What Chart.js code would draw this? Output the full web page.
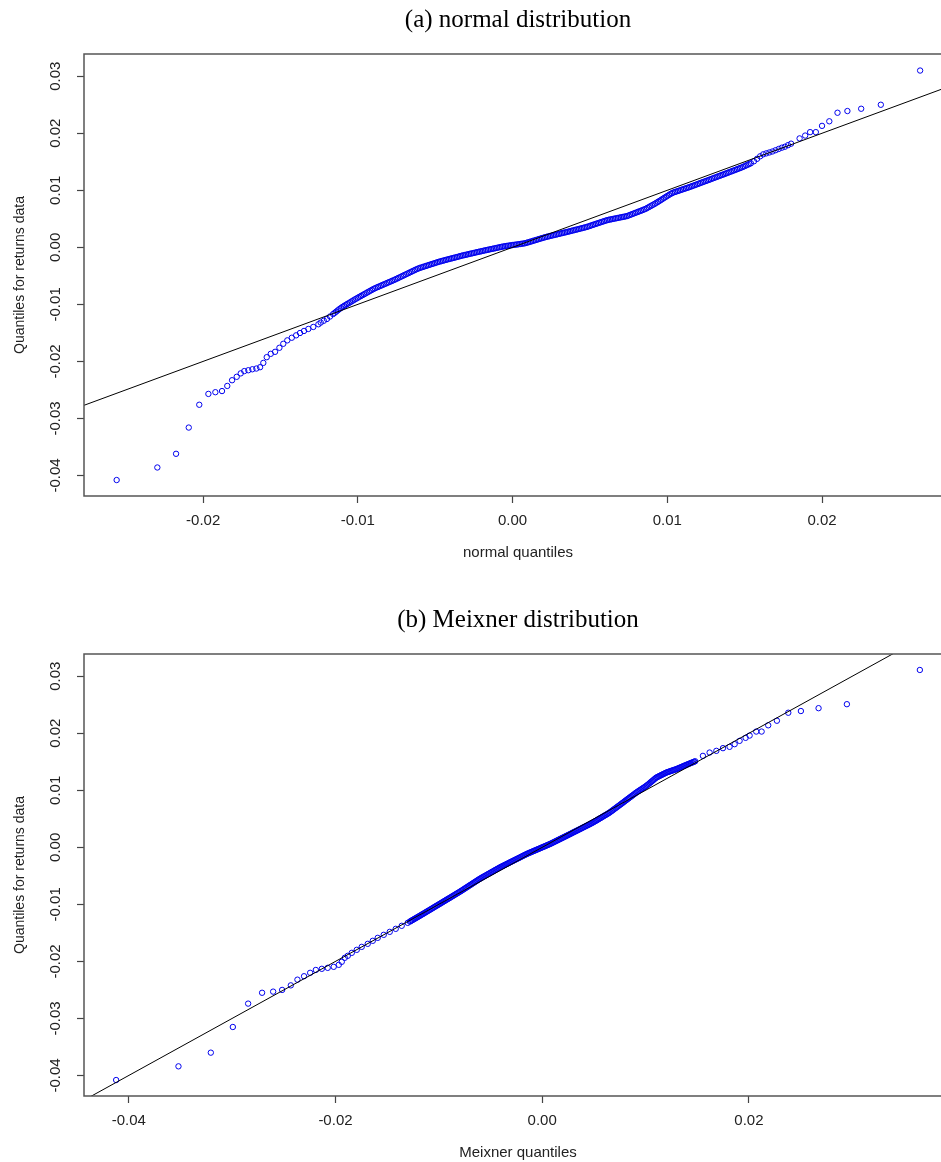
<!DOCTYPE html>
<html>
<head>
<meta charset="utf-8">
<script src="https://cdn.jsdelivr.net/npm/chart.js@4.4.0/dist/chart.umd.min.js"></script>
<style>
  html, body { margin: 0; padding: 0; background: #fff; overflow: hidden; }
  .panel { position: relative; width: 960px; height: 600px; }
</style>
</head>
<body>
<div class="panel"><canvas id="normalChart" width="960" height="600"></canvas></div>
<div class="panel"><canvas id="meixnerChart" width="960" height="600"></canvas></div>
<script>
// Q-Q plots of the returns: sorted sample (y) against theoretical quantiles (x)

// (a) normal quantiles -- lower tail
const normalLowX = [-0.02559, -0.02296, -0.02175, -0.02093, -0.02025, -0.01966, -0.01921, -0.01878, -0.01844, -0.01813,
  -0.01783, -0.01757, -0.01734, -0.01708, -0.01682, -0.01656, -0.01632, -0.01611, -0.01589, -0.01563,
  -0.01535, -0.01507, -0.01482, -0.01456, -0.01427, -0.01399, -0.01374, -0.01348, -0.0132, -0.01288, -0.01255];
const normalLowY = [-0.0408, -0.0386, -0.0362, -0.0316, -0.0276, -0.0257, -0.0254, -0.0252, -0.0243, -0.0233,
  -0.0227, -0.0221, -0.0217, -0.02155, -0.02138, -0.02125, -0.02102, -0.02026, -0.01926, -0.01867,
  -0.01832, -0.01761, -0.01691, -0.01631, -0.01585, -0.01543, -0.01502, -0.01466, -0.01431, -0.01396, -0.01349];

// (a) body of the sample
const normalBandX = [
  -0.0124, -0.0122, -0.0120, -0.0118, -0.0116, -0.0114, -0.0112, -0.0110, -0.0108, -0.0106,
  -0.0104, -0.0102, -0.0100, -0.0098, -0.0096, -0.0094, -0.0092, -0.0090, -0.0088, -0.0086,
  -0.0084, -0.0082, -0.0080, -0.0078, -0.0076, -0.0074, -0.0072, -0.0070, -0.0068, -0.0066,
  -0.0064, -0.0062, -0.0060, -0.0058, -0.0056, -0.0054, -0.0052, -0.0050, -0.0048, -0.0046,
  -0.0044, -0.0042, -0.0040, -0.0038, -0.0036, -0.0034, -0.0032, -0.0030, -0.0028, -0.0026,
  -0.0024, -0.0022, -0.0020, -0.0018, -0.0016, -0.0014, -0.0012, -0.0010, -0.0008, -0.0006,
  -0.0004, -0.0002, 0.0000, 0.0002, 0.0004, 0.0006, 0.0008, 0.0010, 0.0012, 0.0014,
  0.0016, 0.0018, 0.0020, 0.0022, 0.0024, 0.0026, 0.0028, 0.0030, 0.0032, 0.0034,
  0.0036, 0.0038, 0.0040, 0.0042, 0.0044, 0.0046, 0.0048, 0.0050, 0.0052, 0.0054,
  0.0056, 0.0058, 0.0060, 0.0062, 0.0064, 0.0066, 0.0068, 0.0070, 0.0072, 0.0074,
  0.0076, 0.0078, 0.0080, 0.0082, 0.0084, 0.0086, 0.0088, 0.0090, 0.0092, 0.0094,
  0.0096, 0.0098, 0.0100, 0.0102, 0.0104, 0.0106, 0.0108, 0.0110, 0.0112, 0.0114,
  0.0116, 0.0118, 0.0120, 0.0122, 0.0124, 0.0126, 0.0128, 0.0130, 0.0132, 0.0134,
  0.0136, 0.0138, 0.0140, 0.0142, 0.0144, 0.0146, 0.0148, 0.0150, 0.0152, 0.0154,
  0.0156, 0.0158, 0.0160, 0.0162, 0.0164, 0.0166, 0.0168, 0.0170, 0.0172, 0.0174,
  0.0176, 0.0178, 0.0180];
const normalBandY = [
  -0.01319, -0.01287, -0.01256, -0.01213, -0.0117, -0.01127, -0.01084, -0.01045, -0.01012, -0.0098,
  -0.00947, -0.00914, -0.00883, -0.00853, -0.00823, -0.00792, -0.00762, -0.00732, -0.00706, -0.00683,
  -0.00659, -0.00636, -0.00612, -0.00589, -0.00565, -0.00539, -0.00513, -0.00487, -0.00461, -0.00435,
  -0.00409, -0.00383, -0.00361, -0.00344, -0.00326, -0.00309, -0.00291, -0.00274, -0.00256, -0.00241,
  -0.00226, -0.00212, -0.00198, -0.00184, -0.0017, -0.00155, -0.00141, -0.00129, -0.00116, -0.00104,
  -0.00091, -0.00079, -0.00067, -0.00054, -0.00043, -0.00031, -0.0002, -0.00008, 0.00004, 0.00015,
  0.00024, 0.00032, 0.0004, 0.00047, 0.00055, 0.00063, 0.00071, 0.00087, 0.00103, 0.0012,
  0.00136, 0.00153, 0.00169, 0.00184, 0.00197, 0.0021, 0.00223, 0.00236, 0.00249, 0.00262,
  0.00275, 0.00289, 0.00303, 0.00316, 0.0033, 0.00344, 0.00358, 0.00376, 0.00395, 0.00413,
  0.00431, 0.00449, 0.00467, 0.00482, 0.00493, 0.00504, 0.00515, 0.00526, 0.00537, 0.00548,
  0.00569, 0.0059, 0.00611, 0.00632, 0.00653, 0.00675, 0.00705, 0.00735, 0.00765, 0.00798,
  0.00832, 0.00867, 0.00901, 0.00935, 0.00962, 0.0098, 0.00998, 0.01017, 0.01035, 0.01053,
  0.01073, 0.01093, 0.01113, 0.01134, 0.01154, 0.01174, 0.01194, 0.01215, 0.01235, 0.01256,
  0.01276, 0.01296, 0.01317, 0.01338, 0.01358, 0.01379, 0.014, 0.01424, 0.01449, 0.01474,
  0.01509, 0.01552, 0.01596, 0.01631, 0.01648, 0.01664, 0.01681, 0.01703, 0.01725, 0.01747,
  0.01764, 0.01791, 0.01818];

// (a) densest stretch, observations lying between the ones above
const normalMidX = [
  -0.0115, -0.0113, -0.0111, -0.0109, -0.0107, -0.0105,
  -0.0103, -0.0101, -0.0099, -0.0097, -0.0095, -0.0093, -0.0091, -0.0089, -0.0087, -0.0085,
  -0.0083, -0.0081, -0.0079, -0.0077, -0.0075, -0.0073, -0.0071, -0.0069, -0.0067, -0.0065,
  -0.0063, -0.0061, -0.0059, -0.0057, -0.0055, -0.0053, -0.0051, -0.0049, -0.0047, -0.0045,
  -0.0043, -0.0041, -0.0039, -0.0037, -0.0035, -0.0033, -0.0031, -0.0029, -0.0027, -0.0025,
  -0.0023, -0.0021, -0.0019, -0.0017, -0.0015, -0.0013, -0.0011, -0.0009, -0.0007, -0.0005,
  -0.0003, -0.0001, 0.0001, 0.0003, 0.0005, 0.0007, 0.0009, 0.0011, 0.0013, 0.0015,
  0.0017, 0.0019, 0.0021, 0.0023, 0.0025, 0.0027, 0.0029, 0.0031, 0.0033, 0.0035,
  0.0037, 0.0039, 0.0041, 0.0043, 0.0045, 0.0047, 0.0049, 0.0051, 0.0053, 0.0055,
  0.0057, 0.0059, 0.0061, 0.0063, 0.0065, 0.0067, 0.0069, 0.0071, 0.0073, 0.0075,
  0.0077, 0.0079, 0.0081, 0.0083, 0.0085, 0.0087, 0.0089, 0.0091, 0.0093, 0.0095,
  0.0097, 0.0099, 0.0101, 0.0103, 0.0105, 0.0107, 0.0109, 0.0111, 0.0113, 0.0115,
  0.0117, 0.0119, 0.0121, 0.0123, 0.0125, 0.0127, 0.0129, 0.0131, 0.0133, 0.0135,
  0.0137, 0.0139, 0.0141, 0.0143, 0.0145, 0.0147, 0.0149, 0.0151, 0.0153];
const normalMidY = [
  -0.01149, -0.01106, -0.01065, -0.01029, -0.00996, -0.00964,
  -0.00931, -0.00899, -0.00868, -0.00838, -0.00808, -0.00777, -0.00747, -0.00719, -0.00695, -0.00671,
  -0.00648, -0.00624, -0.00601, -0.00577, -0.00552, -0.00526, -0.005, -0.00474, -0.00448, -0.00422,
  -0.00396, -0.00372, -0.00353, -0.00335, -0.00318, -0.003, -0.00283, -0.00265, -0.00249, -0.00234,
  -0.00219, -0.00205, -0.00191, -0.00177, -0.00163, -0.00148, -0.00135, -0.00123, -0.0011, -0.00098,
  -0.00085, -0.00073, -0.00061, -0.00049, -0.00037, -0.00026, -0.00014, -0.00002, 0.0001, 0.0002,
  0.00028, 0.00036, 0.00044, 0.00051, 0.00059, 0.00067, 0.00079, 0.00095, 0.00112, 0.00128,
  0.00145, 0.00161, 0.00177, 0.00191, 0.00204, 0.00217, 0.0023, 0.00243, 0.00256, 0.00269,
  0.00282, 0.00296, 0.0031, 0.00323, 0.00337, 0.00351, 0.00367, 0.00386, 0.00404, 0.00422,
  0.0044, 0.00458, 0.00475, 0.00488, 0.00499, 0.0051, 0.00521, 0.00532, 0.00543, 0.00559,
  0.0058, 0.00601, 0.00622, 0.00643, 0.00664, 0.0069, 0.0072, 0.0075, 0.00782, 0.00815,
  0.0085, 0.00884, 0.00918, 0.00949, 0.00971, 0.00989, 0.01008, 0.01026, 0.01044, 0.01063,
  0.01083, 0.01103, 0.01124, 0.01144, 0.01164, 0.01184, 0.01205, 0.01225, 0.01246, 0.01266,
  0.01286, 0.01307, 0.01328, 0.01348, 0.01369, 0.0139, 0.01412, 0.01437, 0.01462];

// (a) upper tail
const normalHighX = [0.01855, 0.01891, 0.01923, 0.0196, 0.0200, 0.02047, 0.0210, 0.02164, 0.02253, 0.0238, 0.02634];
const normalHighY = [0.0191, 0.0196, 0.0202, 0.0202, 0.0213, 0.0221, 0.0236, 0.0239, 0.0243, 0.0250, 0.0310];

// (b) Meixner quantiles -- lower tail
const meixnerLowX = [-0.04122, -0.03519, -0.03206, -0.02993, -0.02845, -0.0271, -0.02603, -0.02516, -0.02432, -0.02368,
  -0.02304, -0.02245, -0.0219, -0.02132, -0.02075, -0.02017, -0.01968, -0.01939, -0.0191, -0.01881,
  -0.01842, -0.01794, -0.01746, -0.01688, -0.01639, -0.01591, -0.01533, -0.01475, -0.01417, -0.01359, -0.01301];
const meixnerLowY = [-0.0408, -0.0384, -0.0360, -0.0315, -0.0274, -0.0255, -0.0253, -0.0250, -0.0242, -0.0232,
  -0.0226, -0.0220, -0.0215, -0.0213, -0.02113, -0.02095, -0.0206, -0.02007, -0.01937, -0.01902,
  -0.0185, -0.01797, -0.01745, -0.01692, -0.01639, -0.01587, -0.01534, -0.01482, -0.01429, -0.01376, -0.01324];

// (b) body of the sample
const meixnerBandX = [
  -0.0128, -0.0126, -0.0124, -0.0122, -0.0120, -0.0118, -0.0116, -0.0114, -0.0112, -0.0110,
  -0.0108, -0.0106, -0.0104, -0.0102, -0.0100, -0.0098, -0.0096, -0.0094, -0.0092, -0.0090,
  -0.0088, -0.0086, -0.0084, -0.0082, -0.0080, -0.0078, -0.0076, -0.0074, -0.0072, -0.0070,
  -0.0068, -0.0066, -0.0064, -0.0062, -0.0060, -0.0058, -0.0056, -0.0054, -0.0052, -0.0050,
  -0.0048, -0.0046, -0.0044, -0.0042, -0.0040, -0.0038, -0.0036, -0.0034, -0.0032, -0.0030,
  -0.0028, -0.0026, -0.0024, -0.0022, -0.0020, -0.0018, -0.0016, -0.0014, -0.0012, -0.0010,
  -0.0008, -0.0006, -0.0004, -0.0002, 0.0000, 0.0002, 0.0004, 0.0006, 0.0008, 0.0010,
  0.0012, 0.0014, 0.0016, 0.0018, 0.0020, 0.0022, 0.0024, 0.0026, 0.0028, 0.0030,
  0.0032, 0.0034, 0.0036, 0.0038, 0.0040, 0.0042, 0.0044, 0.0046, 0.0048, 0.0050,
  0.0052, 0.0054, 0.0056, 0.0058, 0.0060, 0.0062, 0.0064, 0.0066, 0.0068, 0.0070,
  0.0072, 0.0074, 0.0076, 0.0078, 0.0080, 0.0082, 0.0084, 0.0086, 0.0088, 0.0090,
  0.0092, 0.0094, 0.0096, 0.0098, 0.0100, 0.0102, 0.0104, 0.0106, 0.0108, 0.0110,
  0.0112, 0.0114, 0.0116, 0.0118, 0.0120, 0.0122, 0.0124, 0.0126, 0.0128, 0.0130,
  0.0132, 0.0134, 0.0136, 0.0138, 0.0140, 0.0142, 0.0144, 0.0146, 0.0148];
const meixnerBandY = [
  -0.01302, -0.0128, -0.01259, -0.01238, -0.01217, -0.01196, -0.01174, -0.01153, -0.01131, -0.01109,
  -0.01088, -0.01066, -0.01044, -0.01022, -0.01001, -0.00979, -0.00957, -0.00935, -0.00913, -0.00892,
  -0.0087, -0.00848, -0.00826, -0.00804, -0.00782, -0.00759, -0.00736, -0.00712, -0.00689, -0.00665,
  -0.00642, -0.00618, -0.00595, -0.00571, -0.00548, -0.00527, -0.00507, -0.00486, -0.00466, -0.00445,
  -0.00425, -0.00404, -0.00384, -0.00363, -0.00344, -0.00326, -0.00308, -0.0029, -0.00271, -0.00253,
  -0.00235, -0.00217, -0.00199, -0.00181, -0.00162, -0.00144, -0.00126, -0.00109, -0.00093, -0.00078,
  -0.00062, -0.00047, -0.00031, -0.00016, 0.0, 0.00015, 0.00031, 0.00046, 0.00062, 0.0008,
  0.00098, 0.00116, 0.00134, 0.00152, 0.0017, 0.00188, 0.00206, 0.00224, 0.00242, 0.00261,
  0.00279, 0.00297, 0.00315, 0.00333, 0.00352, 0.0037, 0.00388, 0.00406, 0.00425, 0.00445,
  0.00466, 0.00488, 0.00509, 0.00531, 0.00553, 0.00574, 0.00596, 0.0062, 0.00647, 0.00674,
  0.00701, 0.00728, 0.00755, 0.00782, 0.0081, 0.00837, 0.00864, 0.00891, 0.00918, 0.00946,
  0.00972, 0.00996, 0.0102, 0.01044, 0.01068, 0.01096, 0.01126, 0.01157, 0.01187, 0.01218,
  0.01238, 0.01256, 0.01274, 0.01292, 0.0131, 0.01323, 0.01335, 0.01348, 0.0136, 0.01372,
  0.01388, 0.01403, 0.01419, 0.01434, 0.0145, 0.01464, 0.01479, 0.01494, 0.01509];

// (b) densest stretch, observations lying between the ones above
const meixnerMidX = [
  -0.0127, -0.0125, -0.0123, -0.0121, -0.0119, -0.0117, -0.0115, -0.0113, -0.0111, -0.0109,
  -0.0107, -0.0105, -0.0103, -0.0101, -0.0099, -0.0097, -0.0095, -0.0093, -0.0091, -0.0089,
  -0.0087, -0.0085, -0.0083, -0.0081, -0.0079, -0.0077, -0.0075, -0.0073, -0.0071, -0.0069,
  -0.0067, -0.0065, -0.0063, -0.0061, -0.0059, -0.0057, -0.0055, -0.0053, -0.0051, -0.0049,
  -0.0047, -0.0045, -0.0043, -0.0041, -0.0039, -0.0037, -0.0035, -0.0033, -0.0031, -0.0029,
  -0.0027, -0.0025, -0.0023, -0.0021, -0.0019, -0.0017, -0.0015, -0.0013, -0.0011, -0.0009,
  -0.0007, -0.0005, -0.0003, -0.0001, 0.0001, 0.0003, 0.0005, 0.0007, 0.0009, 0.0011,
  0.0013, 0.0015, 0.0017, 0.0019, 0.0021, 0.0023, 0.0025, 0.0027, 0.0029, 0.0031,
  0.0033, 0.0035, 0.0037, 0.0039, 0.0041, 0.0043, 0.0045, 0.0047, 0.0049, 0.0051,
  0.0053, 0.0055, 0.0057, 0.0059, 0.0061, 0.0063, 0.0065, 0.0067, 0.0069, 0.0071,
  0.0073, 0.0075, 0.0077, 0.0079, 0.0081, 0.0083, 0.0085, 0.0087, 0.0089, 0.0091,
  0.0093, 0.0095, 0.0097, 0.0099, 0.0101, 0.0103, 0.0105, 0.0107, 0.0109, 0.0111,
  0.0113, 0.0115, 0.0117, 0.0119, 0.0121, 0.0123, 0.0125, 0.0127, 0.0129, 0.0131,
  0.0133, 0.0135, 0.0137, 0.0139, 0.0141, 0.0143, 0.0145, 0.0147];
const meixnerMidY = [
  -0.01291, -0.0127, -0.01249, -0.01228, -0.01207, -0.01185, -0.01164, -0.01142, -0.0112, -0.01099,
  -0.01077, -0.01055, -0.01033, -0.01012, -0.0099, -0.00968, -0.00946, -0.00924, -0.00903, -0.00881,
  -0.00859, -0.00837, -0.00815, -0.00793, -0.00771, -0.00748, -0.00724, -0.00701, -0.00677, -0.00654,
  -0.0063, -0.00607, -0.00583, -0.0056, -0.00538, -0.00517, -0.00497, -0.00476, -0.00456, -0.00435,
  -0.00415, -0.00394, -0.00374, -0.00354, -0.00335, -0.00317, -0.00299, -0.00281, -0.00262, -0.00244,
  -0.00226, -0.00208, -0.0019, -0.00172, -0.00153, -0.00135, -0.00118, -0.00101, -0.00086, -0.0007,
  -0.00055, -0.00039, -0.00024, -0.00008, 0.00008, 0.00023, 0.00039, 0.00054, 0.00071, 0.00089,
  0.00107, 0.00125, 0.00143, 0.00161, 0.00179, 0.00197, 0.00215, 0.00233, 0.00252, 0.0027,
  0.00288, 0.00306, 0.00324, 0.00343, 0.00361, 0.00379, 0.00397, 0.00416, 0.00435, 0.00456,
  0.00477, 0.00499, 0.0052, 0.00542, 0.00564, 0.00585, 0.00608, 0.00634, 0.00661, 0.00688,
  0.00715, 0.00742, 0.00769, 0.00796, 0.00824, 0.00851, 0.00878, 0.00905, 0.00932, 0.00959,
  0.00984, 0.01008, 0.01032, 0.01056, 0.01082, 0.01111, 0.01142, 0.01172, 0.01203, 0.01228,
  0.01247, 0.01265, 0.01283, 0.01301, 0.01317, 0.01329, 0.01342, 0.01354, 0.01366, 0.0138,
  0.01396, 0.01411, 0.01427, 0.01442, 0.01457, 0.01472, 0.01487, 0.01502];

// (b) upper tail
const meixnerHighX = [0.01555, 0.0162, 0.01685, 0.01749, 0.01813, 0.01862, 0.0191, 0.01968, 0.02007, 0.02071,
  0.02123, 0.02187, 0.02271, 0.02381, 0.02503, 0.02674, 0.02948, 0.03654];
const meixnerHighY = [0.01604, 0.01662, 0.01692, 0.01739, 0.01762, 0.01809, 0.01867, 0.0192, 0.0196, 0.0203,
  0.0203, 0.0214, 0.0222, 0.0236, 0.0239, 0.0244, 0.0251, 0.0311];

// 45-degree reference line y = x
const refLine = [-0.06, 0.06];

// axis limits (R pads the data range by 4%)
const returnsRange = [-0.0436, 0.0339];
const normalRange = [-0.0277, 0.0284];
const meixnerRange = [-0.04433, 0.03965];

Chart.defaults.font.family = "'Liberation Sans', Arial, sans-serif";
Chart.defaults.color = '#222';

function toPoints(xs, ys) {
  return xs.map((x, i) => ({ x: x, y: ys[i] }));
}

function fmt(v) {
  return (Math.round(v * 100) / 100).toFixed(2);
}

// plot frame like R's box()
const framePlugin = {
  id: 'frame',
  afterDatasetsDraw(chart) {
    const { ctx, chartArea } = chart;
    ctx.save();
    ctx.strokeStyle = '#555';
    ctx.lineWidth = 1.5;
    ctx.strokeRect(chartArea.left, chartArea.top, chartArea.right - chartArea.left, chartArea.bottom - chartArea.top);
    ctx.restore();
  }
};

function qqChart(id, caption, xLabel, points, xRange, xStep) {
  const tickGrid = {
    drawOnChartArea: false,
    drawTicks: true,
    tickLength: 7,
    tickColor: '#444',
    tickWidth: 1.2
  };
  return new Chart(document.getElementById(id), {
    type: 'scatter',
    data: {
      datasets: [
        {
          data: refLine.map(v => ({ x: v, y: v })),
          showLine: true,
          borderColor: '#000',
          borderWidth: 1,
          pointRadius: 0
        },
        {
          data: points,
          pointStyle: 'circle',
          pointRadius: 2.7,
          borderColor: '#0000ee',
          backgroundColor: 'rgba(0,0,0,0)',
          borderWidth: 1
        }
      ]
    },
    options: {
      responsive: false,
      animation: false,
      layout: { padding: { top: 0, right: 8, bottom: 0, left: 0 } },
      plugins: {
        legend: { display: false },
        tooltip: { enabled: false },
        title: {
          display: true,
          text: caption,
          fullSize: false,
          color: '#000',
          font: { family: "'Liberation Serif', 'Times New Roman', serif", size: 25, weight: 'normal' },
          padding: { top: 5, bottom: 19 }
        }
      },
      scales: {
        x: {
          type: 'linear',
          position: 'bottom',
          min: xRange[0],
          max: xRange[1],
          border: { display: false },
          grid: tickGrid,
          ticks: {
            stepSize: xStep,
            includeBounds: false,
            maxRotation: 0,
            padding: 9,
            font: { size: 15 },
            callback: fmt
          },
          title: {
            display: true,
            text: xLabel,
            font: { size: 15 },
            padding: { top: 0, bottom: 38 }
          },
          afterFit(scale) { scale.height = 104; }
        },
        y: {
          type: 'linear',
          min: returnsRange[0],
          max: returnsRange[1],
          border: { display: false },
          grid: tickGrid,
          ticks: {
            stepSize: 0.01,
            includeBounds: false,
            minRotation: 90,
            maxRotation: 90,
            crossAlign: 'center',
            padding: 4,
            font: { size: 15 },
            callback: fmt
          },
          title: {
            display: true,
            text: 'Quantiles for returns data',
            font: { size: 14 },
            padding: { top: 12, bottom: 0 }
          },
          afterFit(scale) { scale.width = 84; }
        }
      }
    },
    plugins: [framePlugin]
  });
}

qqChart('normalChart', '(a) normal distribution', 'normal quantiles',
  toPoints(normalLowX.concat(normalBandX, normalMidX, normalHighX),
           normalLowY.concat(normalBandY, normalMidY, normalHighY)),
  normalRange, 0.01);

qqChart('meixnerChart', '(b) Meixner distribution', 'Meixner quantiles',
  toPoints(meixnerLowX.concat(meixnerBandX, meixnerMidX, meixnerHighX),
           meixnerLowY.concat(meixnerBandY, meixnerMidY, meixnerHighY)),
  meixnerRange, 0.02);
</script>
</body>
</html>
